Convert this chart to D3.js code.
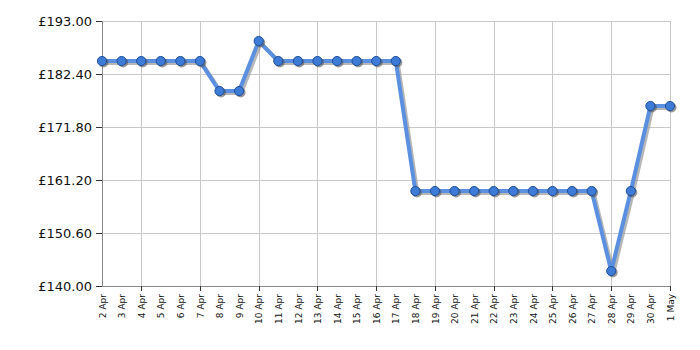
<!DOCTYPE html>
<html lang="en">
<head>
<meta charset="UTF-8"/>
<title>Price history</title>
<script src="https://d3js.org/d3.v7.min.js"></script>
<style>
  body { margin: 0; background: #fff; }
  svg text { font-family: "DejaVu Sans", Verdana, sans-serif; }
</style>
</head>
<body>
<svg id="chart"></svg>
<script>
// dates shown along the bottom
const days = ["2 Apr","3 Apr","4 Apr","5 Apr","6 Apr","7 Apr","8 Apr","9 Apr","10 Apr","11 Apr",
  "12 Apr","13 Apr","14 Apr","15 Apr","16 Apr","17 Apr","18 Apr","19 Apr","20 Apr","21 Apr",
  "22 Apr","23 Apr","24 Apr","25 Apr","26 Apr","27 Apr","28 Apr","29 Apr","30 Apr","1 May"];
const prices = [184.99,184.99,184.99,184.99,184.99,184.99,178.99,178.99,188.99,184.99,
  184.99,184.99,184.99,184.99,184.99,184.99,158.99,158.99,158.99,158.99,
  158.99,158.99,158.99,158.99,158.99,158.99,142.99,158.99,175.99,175.99];
const yTicks = [140.00, 150.60, 161.20, 171.80, 182.40, 193.00];
const gridDays = ["4 Apr","7 Apr","10 Apr","13 Apr","16 Apr","19 Apr","22 Apr","25 Apr","28 Apr","1 May"];

var width = 700, height = 350;
var margin = {top: 21, right: 30, bottom: 64, left: 102};

var svg = d3.select("#chart").attr("width", width).attr("height", height);

var x = d3.scalePoint().domain(days).range([margin.left, width - margin.right]);
var y = d3.scaleLinear().domain([140, 193]).range([height - margin.bottom, margin.top]);

// grid
svg.append("g").selectAll("line").data(yTicks).enter().append("line")
    .attr("x1", margin.left).attr("x2", width - margin.right)
    .attr("y1", d => y(d) + 0.5).attr("y2", d => y(d) + 0.5)
    .attr("stroke", "#c8c8c8").attr("stroke-width", 1);
svg.append("g").selectAll("line").data(gridDays).enter().append("line")
    .attr("x1", d => Math.round(x(d)) + 0.5).attr("x2", d => Math.round(x(d)) + 0.5)
    .attr("y1", margin.top).attr("y2", height - margin.bottom)
    .attr("stroke", "#c8c8c8").attr("stroke-width", 1);

// y axis
var yAxis = svg.append("g")
    .attr("transform", "translate(" + margin.left + ",0)")
    .call(d3.axisLeft(y).tickValues(yTicks).tickSize(6).tickPadding(4)
        .tickFormat(d => "£" + d3.format(".2f")(d)));
yAxis.select(".domain").attr("stroke", "#888");
yAxis.selectAll(".tick line").attr("stroke", "#333");
yAxis.selectAll("text").style("font-size", "13px").attr("fill", "#111");

// x axis
var xAxis = svg.append("g")
    .attr("transform", "translate(0," + (height - margin.bottom) + ")")
    .call(d3.axisBottom(x).tickSize(0).tickPadding(0));
xAxis.select(".domain").attr("stroke", "#888");
xAxis.selectAll("text")
    .style("font-size", "9px").attr("fill", "#111")
    .attr("text-anchor", "end")
    .attr("transform", "rotate(-90)")
    .attr("x", -8).attr("y", 0).attr("dy", "0.35em");
svg.append("g").selectAll("line").data(gridDays).enter().append("line")
    .attr("x1", d => Math.round(x(d)) + 0.5).attr("x2", d => Math.round(x(d)) + 0.5)
    .attr("y1", height - margin.bottom).attr("y2", height - margin.bottom + 5)
    .attr("stroke", "#333");

var pts = days.map((d, i) => ({day: d, price: prices[i]}));
var line = d3.line().x(d => x(d.day)).y(d => y(d.price));

// shadow
svg.append("path").datum(pts)
    .attr("d", line)
    .attr("transform", "translate(2,2)")
    .attr("fill", "none").attr("stroke", "#999").attr("stroke-opacity", 0.7)
    .attr("stroke-width", 4).attr("stroke-linejoin", "round");
svg.append("path").datum(pts)
    .attr("d", line)
    .attr("fill", "none").attr("stroke", "#5b8fe0")
    .attr("stroke-width", 4).attr("stroke-linejoin", "round");

svg.append("g").selectAll("circle").data(pts).enter().append("circle")
    .attr("cx", d => x(d.day) + 1.5).attr("cy", d => y(d.price) + 1.5)
    .attr("r", 5).attr("fill", "#555").attr("fill-opacity", 0.6);
svg.append("g").selectAll("circle").data(pts).enter().append("circle")
    .attr("cx", d => x(d.day)).attr("cy", d => y(d.price))
    .attr("r", 4.6).attr("fill", "#3d7bd6").attr("stroke", "#1f4f9a").attr("stroke-width", 1);
</script>
</body>
</html>
